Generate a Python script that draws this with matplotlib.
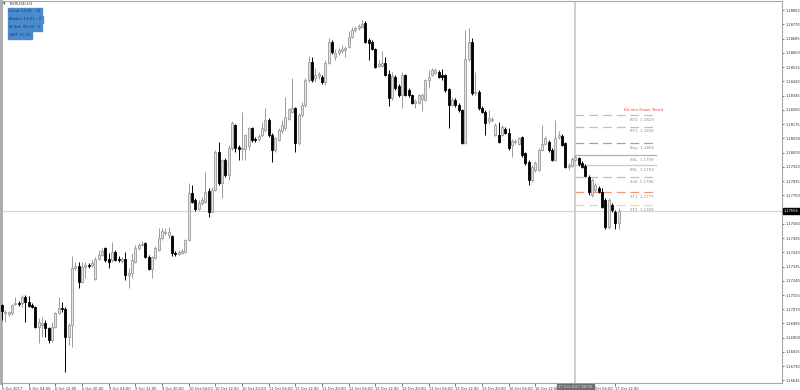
import matplotlib
matplotlib.use("Agg")
import matplotlib.pyplot as plt
import numpy as np

# EURUSD H1 candles, 5 Oct 20:00 -> 17 Oct 13:00
opens = [
    1.17095, 1.17047, 1.17041, 1.17047, 1.17101, 1.17107, 1.17107, 1.17143, 1.17113, 1.17095,
    1.17083, 1.16964, 1.16976, 1.16988, 1.16958, 1.16887, 1.16964, 1.17047, 1.17077, 1.17071,
    1.16904, 1.16976, 1.17316, 1.17328, 1.17232, 1.17322, 1.17334, 1.17334, 1.17250, 1.17369,
    1.17393, 1.17435, 1.17369, 1.17364, 1.17411, 1.17369, 1.17358, 1.17369, 1.17274, 1.17286,
    1.17352, 1.17435, 1.17453, 1.17465, 1.17381, 1.17310, 1.17375, 1.17423, 1.17495, 1.17525,
    1.17513, 1.17507, 1.17405, 1.17399, 1.17405, 1.17411, 1.17483, 1.17763, 1.17722, 1.17668,
    1.17704, 1.17710, 1.17775, 1.17650, 1.17781, 1.18008, 1.17823, 1.17960, 1.17871, 1.18032,
    1.18169, 1.18038, 1.18026, 1.18026, 1.18044, 1.18151, 1.18085, 1.18085, 1.18109, 1.18139,
    1.18199, 1.18109, 1.18020, 1.18079, 1.18133, 1.18151, 1.18205, 1.18246, 1.18270, 1.18062,
    1.18228, 1.18288, 1.18437, 1.18545, 1.18449, 1.18461, 1.18455, 1.18425, 1.18539, 1.18664,
    1.18574, 1.18598, 1.18610, 1.18616, 1.18634, 1.18694, 1.18736, 1.18748, 1.18754, 1.18778,
    1.18676, 1.18664, 1.18622, 1.18521, 1.18521, 1.18539, 1.18473, 1.18330, 1.18455, 1.18402,
    1.18348, 1.18467, 1.18378, 1.18348, 1.18300, 1.18300, 1.18324, 1.18318, 1.18437, 1.18467,
    1.18479, 1.18485, 1.18467, 1.18467, 1.18384, 1.18288, 1.18318, 1.18288, 1.18258, 1.18062,
    1.18563, 1.18664, 1.18360, 1.18366, 1.18270, 1.18246, 1.18193, 1.18199, 1.18109, 1.18109,
    1.18109, 1.18145, 1.18121, 1.18050, 1.18067, 1.18056, 1.18097, 1.18002, 1.17948, 1.17841,
    1.17901, 1.17901, 1.18020, 1.18056, 1.18067, 1.18020, 1.17960, 1.18097, 1.18103, 1.18062,
    1.17918, 1.17924, 1.17960, 1.17972, 1.17942, 1.17924, 1.17859, 1.17751, 1.17781, 1.17793,
    1.17769, 1.17722, 1.17561, 1.17692, 1.17650, 1.17584,
]
highs = [
    1.17101, 1.17065, 1.17059, 1.17101, 1.17143, 1.17119, 1.17155, 1.17155, 1.17149, 1.17107,
    1.17089, 1.17017, 1.17023, 1.17006, 1.16964, 1.16994, 1.17053, 1.17143, 1.17113, 1.17083,
    1.16988, 1.17387, 1.17352, 1.17352, 1.17352, 1.17352, 1.17346, 1.17364, 1.17381, 1.17423,
    1.17435, 1.17441, 1.17405, 1.17471, 1.17423, 1.17387, 1.17381, 1.17411, 1.17316, 1.17405,
    1.17453, 1.17465, 1.17477, 1.17471, 1.17393, 1.17387, 1.17447, 1.17554, 1.17554, 1.17554,
    1.17560, 1.17513, 1.17417, 1.17423, 1.17429, 1.17489, 1.17823, 1.17811, 1.17734, 1.17722,
    1.17740, 1.17889, 1.17793, 1.17799, 1.18020, 1.18067, 1.17966, 1.17972, 1.18050, 1.18193,
    1.18175, 1.18050, 1.18246, 1.18115, 1.18157, 1.18157, 1.18097, 1.18115, 1.18187, 1.18270,
    1.18211, 1.18121, 1.18097, 1.18151, 1.18199, 1.18336, 1.18270, 1.18449, 1.18276, 1.18240,
    1.18306, 1.18449, 1.18581, 1.18575, 1.18509, 1.18485, 1.18467, 1.18557, 1.18688, 1.18676,
    1.18622, 1.18628, 1.18646, 1.18640, 1.18730, 1.18754, 1.18760, 1.18772, 1.18795, 1.18789,
    1.18688, 1.18676, 1.18628, 1.18557, 1.18610, 1.18574, 1.18497, 1.18485, 1.18467, 1.18413,
    1.18485, 1.18473, 1.18390, 1.18354, 1.18324, 1.18354, 1.18360, 1.18443, 1.18497, 1.18509,
    1.18509, 1.18497, 1.18503, 1.18473, 1.18390, 1.18336, 1.18330, 1.18300, 1.18264, 1.18736,
    1.18748, 1.18688, 1.18485, 1.18378, 1.18282, 1.18258, 1.18258, 1.18217, 1.18181, 1.18187,
    1.18169, 1.18157, 1.18151, 1.18085, 1.18085, 1.18097, 1.18103, 1.18008, 1.17960, 1.17930,
    1.17954, 1.18032, 1.18169, 1.18103, 1.18079, 1.18032, 1.18199, 1.18133, 1.18115, 1.18067,
    1.17942, 1.17978, 1.17990, 1.17978, 1.17954, 1.17936, 1.17871, 1.17853, 1.17823, 1.17805,
    1.17793, 1.17734, 1.17734, 1.17704, 1.17662, 1.17674,
]
lows = [
    1.17006, 1.16994, 1.17029, 1.17035, 1.17095, 1.17089, 1.17083, 1.16994, 1.17083, 1.17077,
    1.16958, 1.16869, 1.16904, 1.16904, 1.16869, 1.16875, 1.16958, 1.17041, 1.17053, 1.16696,
    1.16857, 1.16845, 1.17304, 1.17196, 1.17226, 1.17256, 1.17316, 1.17322, 1.17244, 1.17364,
    1.17387, 1.17352, 1.17316, 1.17352, 1.17358, 1.17352, 1.17346, 1.17244, 1.17196, 1.17256,
    1.17346, 1.17423, 1.17447, 1.17375, 1.17304, 1.17256, 1.17369, 1.17417, 1.17483, 1.17513,
    1.17495, 1.17387, 1.17387, 1.17393, 1.17399, 1.17405, 1.17477, 1.17704, 1.17656, 1.17662,
    1.17692, 1.17704, 1.17620, 1.17644, 1.17775, 1.17811, 1.17734, 1.17859, 1.17841, 1.18020,
    1.18008, 1.17960, 1.17960, 1.17960, 1.18020, 1.18067, 1.18067, 1.18073, 1.18097, 1.18127,
    1.18097, 1.17948, 1.18008, 1.18073, 1.18121, 1.18139, 1.18199, 1.18240, 1.18008, 1.18050,
    1.18217, 1.18276, 1.18425, 1.18425, 1.18425, 1.18443, 1.18413, 1.18407, 1.18533, 1.18592,
    1.18557, 1.18586, 1.18598, 1.18574, 1.18628, 1.18688, 1.18724, 1.18736, 1.18748, 1.18658,
    1.18557, 1.18616, 1.18509, 1.18515, 1.18515, 1.18461, 1.18282, 1.18318, 1.18378, 1.18336,
    1.18270, 1.18342, 1.18336, 1.18294, 1.18270, 1.18294, 1.18252, 1.18312, 1.18390, 1.18461,
    1.18473, 1.18449, 1.18437, 1.18366, 1.18151, 1.18282, 1.18276, 1.18246, 1.18056, 1.18056,
    1.18551, 1.18348, 1.18348, 1.18258, 1.18240, 1.18109, 1.18175, 1.18187, 1.18103, 1.18062,
    1.18103, 1.18115, 1.18020, 1.17978, 1.18056, 1.18050, 1.17978, 1.17930, 1.17811, 1.17829,
    1.17889, 1.17895, 1.18014, 1.18050, 1.18008, 1.17954, 1.17954, 1.18085, 1.18044, 1.17912,
    1.17901, 1.17918, 1.17954, 1.17924, 1.17912, 1.17859, 1.17751, 1.17740, 1.17769, 1.17763,
    1.17674, 1.17549, 1.17549, 1.17650, 1.17549, 1.17549,
]
closes = [
    1.17059, 1.17053, 1.17053, 1.17095, 1.17107, 1.17101, 1.17143, 1.17113, 1.17089, 1.17083,
    1.16964, 1.16994, 1.16988, 1.16958, 1.16887, 1.16964, 1.17047, 1.17077, 1.17071, 1.16904,
    1.16976, 1.17316, 1.17328, 1.17232, 1.17322, 1.17334, 1.17328, 1.17346, 1.17369, 1.17393,
    1.17417, 1.17364, 1.17352, 1.17411, 1.17364, 1.17364, 1.17369, 1.17274, 1.17286, 1.17364,
    1.17435, 1.17453, 1.17459, 1.17381, 1.17310, 1.17381, 1.17435, 1.17495, 1.17537, 1.17531,
    1.17531, 1.17405, 1.17399, 1.17411, 1.17417, 1.17483, 1.17763, 1.17710, 1.17668, 1.17704,
    1.17722, 1.17769, 1.17650, 1.17781, 1.18008, 1.17823, 1.17960, 1.17871, 1.18032, 1.18181,
    1.18032, 1.18026, 1.18032, 1.18109, 1.18151, 1.18079, 1.18079, 1.18103, 1.18151, 1.18199,
    1.18109, 1.18020, 1.18091, 1.18139, 1.18169, 1.18217, 1.18264, 1.18270, 1.18062, 1.18228,
    1.18288, 1.18437, 1.18545, 1.18437, 1.18467, 1.18473, 1.18425, 1.18539, 1.18664, 1.18604,
    1.18598, 1.18616, 1.18622, 1.18628, 1.18694, 1.18736, 1.18748, 1.18760, 1.18772, 1.18664,
    1.18658, 1.18622, 1.18515, 1.18533, 1.18539, 1.18467, 1.18330, 1.18461, 1.18390, 1.18348,
    1.18467, 1.18348, 1.18348, 1.18300, 1.18312, 1.18348, 1.18348, 1.18437, 1.18455, 1.18497,
    1.18497, 1.18455, 1.18455, 1.18378, 1.18288, 1.18318, 1.18288, 1.18258, 1.18062, 1.18563,
    1.18664, 1.18360, 1.18366, 1.18270, 1.18246, 1.18181, 1.18211, 1.18205, 1.18169, 1.18067,
    1.18157, 1.18121, 1.18032, 1.18073, 1.18073, 1.18091, 1.17990, 1.17942, 1.17841, 1.17918,
    1.17942, 1.18020, 1.18056, 1.18091, 1.18020, 1.17960, 1.18091, 1.18109, 1.18050, 1.17918,
    1.17930, 1.17966, 1.17978, 1.17936, 1.17918, 1.17865, 1.17769, 1.17841, 1.17811, 1.17769,
    1.17680, 1.17561, 1.17722, 1.17662, 1.17584, 1.17656,
]

# x-axis labels, one every 8 bars (16 Oct 20:00 sits under the marker box)
time_labels = ["5 Oct 2017", "6 Oct 04:00", "6 Oct 12:00", "6 Oct 20:00", "9 Oct 04:00",
               "9 Oct 12:00", "9 Oct 20:00", "10 Oct 04:00", "10 Oct 12:00", "10 Oct 20:00",
               "11 Oct 04:00", "11 Oct 12:00", "11 Oct 20:00", "12 Oct 04:00", "12 Oct 12:00",
               "12 Oct 20:00", "13 Oct 04:00", "13 Oct 12:00", "13 Oct 20:00", "16 Oct 04:00",
               "16 Oct 12:00", "", "17 Oct 04:00", "17 Oct 12:00"]
price_ticks = [1.18855, 1.18770, 1.18685, 1.18600, 1.18515, 1.18430, 1.18345, 1.18260,
               1.18175, 1.18090, 1.18005, 1.17920, 1.17835, 1.17750, 1.17580, 1.17495,
               1.17410, 1.17325, 1.17240, 1.17155, 1.17070, 1.16985, 1.16900, 1.16815,
               1.16730, 1.16645]

# trade levels drawn from the 17 Oct 00:00 marker
level_names = ["BT2", "BT1", "Buy", "SSL", "BSL", "Sell", "ST1", "ST2"]
level_prices = [1.1823, 1.1816, 1.1806, 1.1799, 1.1793, 1.1786, 1.1777, 1.1769]
level_colors = ["#a9c1ee", "#9fd69f", "#7dbb7d", "#c9a99a", "#cfcf9a", "#f2a6ba", "#f39a6e", "#f4d59a"]
level_dashed = [True, True, True, False, False, True, True, True]

marker_bar = 172
last_price = 1.17656

fig = plt.figure(figsize=(8, 3.9), dpi=100)
ax = fig.add_axes([1 / 800, 1 - 383 / 390, 781 / 800, 382 / 390])
ax.set_xlim(-0.3, 234)
ax.set_ylim(1.16630, 1.18909)

idx = np.arange(len(opens))
o = np.array(opens)
h = np.array(highs)
l = np.array(lows)
c = np.array(closes)
up = c >= o

ax.vlines(idx[up], l[up], h[up], color="#9a9a9a", lw=0.7, zorder=3)
ax.vlines(idx[~up], l[~up], h[~up], color="#000000", lw=0.7, zorder=3)
ax.bar(idx[up], (c - o)[up], bottom=o[up], width=0.6, color="#e4e4e4",
       edgecolor="#9a9a9a", linewidth=0.6, zorder=4)
ax.bar(idx[~up], (o - c)[~up], bottom=c[~up], width=0.6, color="#000000",
       edgecolor="#000000", linewidth=0.6, zorder=4)

# current price line and marker line
ax.axhline(last_price, color="#d4d4d4", lw=0.8, zorder=1)
ax.axvline(marker_bar, color="#cfcfcf", lw=1.4, zorder=1)

line_end = 196.2
for name, price, col, dashed in zip(level_names, level_prices, level_colors, level_dashed):
    ls = (0, (7, 4)) if dashed else "-"
    ax.plot([marker_bar, line_end], [price, price], color=col, lw=0.9, ls=ls, zorder=2)
    ax.annotate(f"{name}  {price:.4f}", xy=(195.6, price), xytext=(0, -2.0),
                textcoords="offset points", ha="right", va="top", fontsize=2.9, color="#8c8c8c")
ax.annotate("60-min Down Trend", xy=(198.3, level_prices[0]), xytext=(0, 1.8),
            textcoords="offset points", ha="right", va="bottom", fontsize=2.9, color="#ee3a3a")

# axes styling
for side in ["left", "top", "bottom", "right"]:
    ax.spines[side].set_color("#a8a8a8")
    ax.spines[side].set_linewidth(0.8)
ax.spines["left"].set_linewidth(2)
ax.yaxis.tick_right()
ax.set_yticks(price_ticks)
ax.set_yticklabels([f"{p:.5f}" for p in price_ticks])
ax.tick_params(axis="y", labelsize=2.6, length=1.5, width=0.5, pad=1.0, colors="#333333")
ax.set_xticks(np.arange(len(time_labels)) * 8)
ax.set_xticklabels(time_labels)
for lab in ax.get_xticklabels():
    lab.set_horizontalalignment("left")
ax.tick_params(axis="x", labelsize=2.6, length=2, width=0.5, pad=1.0, colors="#333333")

# price label on axis and time label at the marker
ax.annotate(f"{last_price:.5f}", xy=(1.0, last_price), xycoords=("axes fraction", "data"),
            xytext=(1.5, 0), textcoords="offset points", ha="left", va="center",
            fontsize=2.6, color="white",
            bbox=dict(boxstyle="square,pad=0.35", fc="black", ec="black"))
ax.annotate("17 Oct 2017 00:00", xy=(marker_bar, 0), xycoords=("data", "axes fraction"),
            xytext=(0, -3.0), textcoords="offset points", ha="center", va="center",
            fontsize=2.6, color="#e8e8e8",
            bbox=dict(boxstyle="square,pad=0.45", fc="#6e6e6e", ec="#6e6e6e"))

# symbol caption and clock boxes
fig.text(10 / 800, 1 - 4 / 390, "EURUSD,H1", fontsize=2.9, color="#333333", va="center")
fig.text(3 / 800, 1 - 4 / 390, "\u25be", fontsize=3.5, color="#333333", va="center")
clocks = ["Local 17:21 : 11", "Broker 13:21 : 2", "N.York 06:21 : 6", "GMT 11:21"]
for k, txt in enumerate(clocks):
    fig.text(9 / 800, 1 - (11.5 + 8 * k) / 390, txt, fontsize=2.9, color="#1d3550", va="center",
             bbox=dict(boxstyle="square,pad=0.35", fc="#4a8bd0", ec="#4a8bd0"))

fig.savefig("out.png", dpi=100, facecolor="white")
